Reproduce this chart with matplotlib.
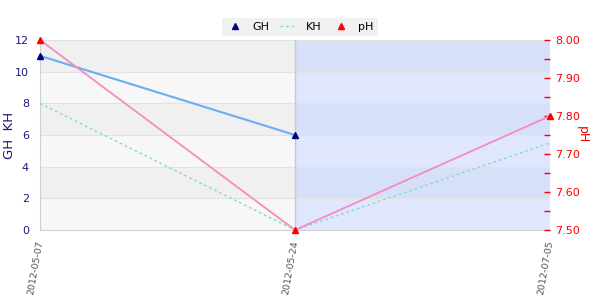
import matplotlib
matplotlib.use("Agg")
import matplotlib.pyplot as plt
from matplotlib.ticker import MultipleLocator

dates = ["2012-05-07", "2012-05-24", "2012-07-05"]
gh = [11, 6, None]
kh = [8, 0, 5.5]
ph = [8.00, 7.50, 7.80]

NAVY = "#000080"
LABEL_NAVY = "#1a1a80"

fig = plt.figure(figsize=(6, 3), dpi=100)
ax = fig.add_axes([40/600, 70/300, 510/600, 190/300])
x = list(range(len(dates)))

# background bands: grey on the left half, blue on the right half
for i, lo in enumerate(range(0, 12, 2)):
    dark = i % 2 == 1
    ax.axhspan(lo, lo + 2, xmin=0, xmax=0.5, color="#f0f0f0" if dark else "#f7f7f7", lw=0, zorder=0)
    ax.axhspan(lo, lo + 2, xmin=0.5, xmax=1, color="#d6e0f9" if dark else "#dfe6fe", lw=0, zorder=0)
for lo in range(2, 13, 2):
    ax.axhline(lo, color="#e2e2e2", lw=0.8, zorder=0.5)
ax.axvline(1, color="#c8c8c8", lw=1, zorder=0.6)

gx = [xi for xi, v in zip(x, gh) if v is not None]
gy = [v for v in gh if v is not None]
ax.plot(gx, gy, color="#6aaef0", lw=1.5, zorder=3)
ax.plot(gx, gy, ls="none", marker="^", color=NAVY, ms=5, clip_on=False, zorder=4, label="GH")
ax.plot(x, kh, color="#80e0b8", lw=1, ls=(0, (2, 2)), zorder=3, label="KH")

ax.set_xlim(0, 2)
ax.set_ylim(0, 12)
ax.yaxis.set_major_locator(MultipleLocator(2))
ax.set_xticks(x)
ax.set_xticklabels(dates, rotation=80, ha="right", va="center", rotation_mode="anchor",
                   color="#555555", fontsize=6.8)
ax.tick_params(axis="y", length=0, colors=LABEL_NAVY, labelsize=8, pad=8)
ax.tick_params(axis="x", length=0, pad=8)
ax.set_ylabel("GH  KH", color=LABEL_NAVY, fontsize=9.5)
ax.yaxis.set_label_coords(-0.047, 0.5)
for s in ["top", "right"]:
    ax.spines[s].set_visible(False)
for s in ["left", "bottom"]:
    ax.spines[s].set_color("#d0d0d0")

ax2 = ax.twinx()
ax2.plot(x, ph, color="#f48cbf", lw=1.3, zorder=3)
ax2.plot(x, ph, ls="none", marker="^", color="red", ms=5, clip_on=False, zorder=4, label="pH")
ax2.set_ylim(7.5, 8.0)
ax2.yaxis.set_major_locator(MultipleLocator(0.1))
ax2.yaxis.set_minor_locator(MultipleLocator(0.05))
ax2.yaxis.set_major_formatter(lambda v, p: f"{v:.2f}")
ax2.tick_params(axis="y", which="both", direction="in", colors="red", length=4, width=1, labelsize=8, pad=4)
ax2.set_ylabel("pH", color="red", fontsize=9, rotation=-90, labelpad=6)
for s in ax2.spines.values():
    s.set_visible(False)

h1, l1 = ax.get_legend_handles_labels()
h2, l2 = ax2.get_legend_handles_labels()
leg = fig.legend(h1 + h2, l1 + l2, loc="upper center", bbox_to_anchor=(0.5, 0.96), ncol=3,
                 fontsize=8, frameon=True, facecolor="#eeeeee", edgecolor="none",
                 fancybox=False, handlelength=1.5, columnspacing=1.0, borderpad=0.4)

fig.savefig("out.png", dpi=100)
